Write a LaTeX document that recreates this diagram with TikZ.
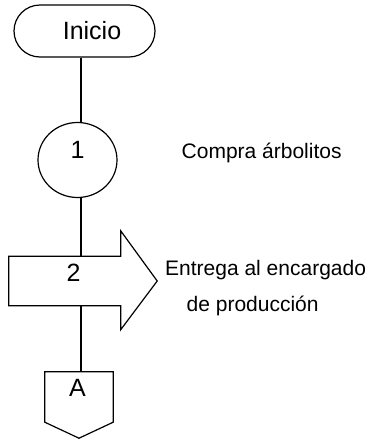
\documentclass[tikz,border=0pt]{standalone}
\usepackage{fontspec}
\setmainfont{Liberation Sans}
\usetikzlibrary{shapes.geometric, positioning}
\tikzstyle{terminal} = [rectangle, rounded corners=26pt, draw, line width=1.2pt, minimum width=141pt, minimum height=52pt, inner sep=0pt, font=\fontsize{25}{30}\selectfont]
\tikzstyle{line} = [line width=1.2pt]

\begin{document}
\begin{tikzpicture}[x=1pt, y=-1pt,
    operation/.style={ellipse, draw, line width=1.2pt, minimum width=79pt, minimum height=75pt, inner sep=0pt},
    frame/.style={inner sep=0pt},
    number/.style={inner sep=0pt, font=\fontsize{25}{30}\selectfont},
    note/.style={anchor=base west, inner sep=0pt, font=\fontsize{21}{25}\selectfont},
]
    \useasboundingbox (0,0) rectangle (370,440);
    \coordinate (stem) at (81,0);

    % Inicio
    \node[terminal] (inicio) at (84.5,31) {\hspace*{15pt}Inicio};

    % Operacion 1
    \node[operation] (op1) at (77.5,160) {};
    \node[number] (n1) at (77.5,150) {1};
    \node[note] (t1) at (181.5,158) {Compra árbolitos};

    % Transporte 2
    \node[frame, minimum width=111.5pt, minimum height=49pt] (tr2) at (64.75,281) {};
    \draw[line] (tr2.north west) -- (tr2.north east) -- ++(0,-25.5)
        -- ([xshift=36.5pt]tr2.east) -- ([yshift=-24pt]tr2.south east)
        -- (tr2.south east) -- (tr2.south west) -- cycle;
    \node[number] (n2) at (73.5,272.5) {2};
    \node[note] (t2a) at (165,275.7) {Entrega al encargado};
    \node[note] (t2b) at (186.5,311.5) {de producción};

    % Conector A
    \node[frame, minimum width=68pt, minimum height=50pt] (conA) at (79,397) {};
    \draw[line] (conA.south west) -- (conA.north west) -- (conA.north east)
        -- (conA.south east) -- ([yshift=-16pt]conA.south) -- cycle;
    \node[number] (nA) at (77.5,388) {A};

    % Lineas
    \draw[line] (inicio.south -| stem) -- (op1.north -| stem);
    \draw[line] (op1.south -| stem) -- (tr2.north -| stem);
    \draw[line] (tr2.south -| stem) -- (conA.north -| stem);
\end{tikzpicture}
\end{document}
